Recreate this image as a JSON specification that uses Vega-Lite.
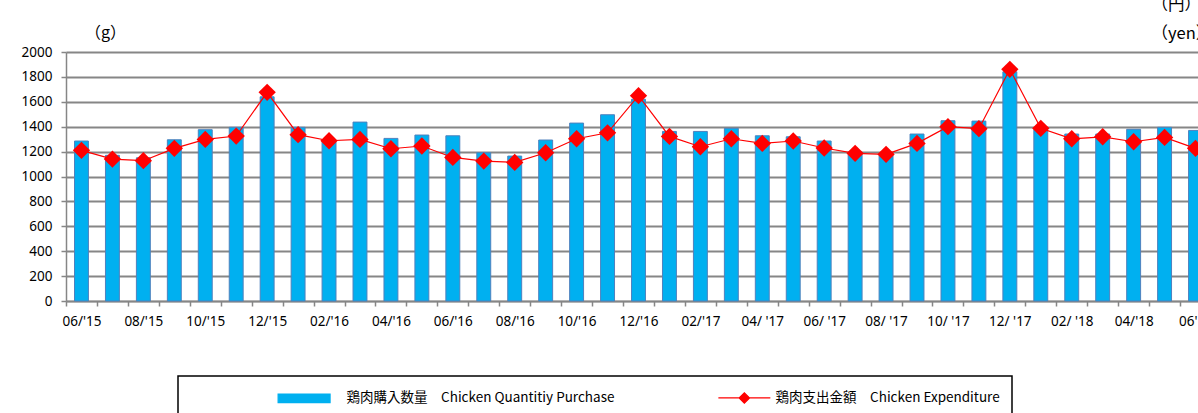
{
  "$schema": "https://vega.github.io/schema/vega-lite/v6.json",
  "width": 1145,
  "height": 249,
  "autosize": {"type": "none"},
  "padding": {"left": 66, "top": 52, "right": 0, "bottom": 112},
  "background": "white",
  "config": {
    "view": {"stroke": null},
    "font": "Noto Sans",
    "axis": {
      "labelFont": "Noto Sans",
      "labelFontSize": 13.5,
      "labelColor": "#000000",
      "domainColor": "#868686",
      "domainWidth": 1.5,
      "tickColor": "#868686",
      "tickWidth": 1.5,
      "tickSize": 5,
      "gridColor": "#868686",
      "gridWidth": 2
    }
  },
  "data": {
    "values": [
      {"month": "06/'15", "qty": 1285, "exp": 1210},
      {"month": "07/'15", "qty": 1170, "exp": 1140},
      {"month": "08/'15", "qty": 1150, "exp": 1127},
      {"month": "09/'15", "qty": 1295, "exp": 1226},
      {"month": "10/'15", "qty": 1376, "exp": 1298},
      {"month": "11/'15", "qty": 1395, "exp": 1325},
      {"month": "12/'15", "qty": 1640, "exp": 1676},
      {"month": "01/'16", "qty": 1395, "exp": 1336},
      {"month": "02/'16", "qty": 1290, "exp": 1287},
      {"month": "03/'16", "qty": 1437, "exp": 1298},
      {"month": "04/'16", "qty": 1306, "exp": 1223},
      {"month": "05/'16", "qty": 1333, "exp": 1245},
      {"month": "06/'16", "qty": 1327, "exp": 1153},
      {"month": "07/'16", "qty": 1191, "exp": 1124},
      {"month": "08/'16", "qty": 1164, "exp": 1113},
      {"month": "09/'16", "qty": 1293, "exp": 1191},
      {"month": "10/'16", "qty": 1429, "exp": 1303},
      {"month": "11/'16", "qty": 1496, "exp": 1351},
      {"month": "12/'16", "qty": 1620, "exp": 1649},
      {"month": "01/'17", "qty": 1362, "exp": 1322},
      {"month": "02/'17", "qty": 1362, "exp": 1239},
      {"month": "03/ '17", "qty": 1387, "exp": 1303},
      {"month": "04/ '17", "qty": 1327, "exp": 1266},
      {"month": "05/ '17", "qty": 1319, "exp": 1285},
      {"month": "06/ '17", "qty": 1285, "exp": 1229},
      {"month": "07/ '17", "qty": 1195, "exp": 1186},
      {"month": "08/ '17", "qty": 1180, "exp": 1178},
      {"month": "09/ '17", "qty": 1341, "exp": 1266},
      {"month": "10/ '17", "qty": 1448, "exp": 1400},
      {"month": "11/ '17", "qty": 1445, "exp": 1384},
      {"month": "12/ '17", "qty": 1841, "exp": 1861},
      {"month": "01/ '18", "qty": 1379, "exp": 1387},
      {"month": "02/ '18", "qty": 1341, "exp": 1303},
      {"month": "03/'18", "qty": 1341, "exp": 1319},
      {"month": "04/'18", "qty": 1379, "exp": 1279},
      {"month": "05/'18", "qty": 1395, "exp": 1314},
      {"month": "06'18", "qty": 1370, "exp": 1226}
    ]
  },
  "encoding": {
    "x": {
      "field": "month",
      "type": "nominal",
      "sort": null,
      "scale": {"paddingInner": 0, "paddingOuter": 0},
      "axis": {
        "title": null,
        "tickBand": "extent",
        "labelAngle": 0,
        "labelOverlap": false,
        "labelPadding": 8,
        "labelExpr": "parseInt(substring(datum.value, 0, 2)) % 2 == 0 ? datum.value : ''"
      }
    }
  },
  "layer": [
    {
      "mark": {"type": "bar", "width": {"band": 0.45}, "stroke": "#4F81BD", "strokeWidth": 1},
      "encoding": {
        "y": {
          "field": "qty",
          "type": "quantitative",
          "scale": {"domain": [0, 2000]},
          "axis": {
            "values": [0, 200, 400, 600, 800, 1000, 1200, 1400, 1600, 1800, 2000],
            "format": "d",
            "grid": true,
            "labelPadding": 9,
            "title": "（g）",
            "titleAngle": 0,
            "titleAlign": "center",
            "titleBaseline": "alphabetic",
            "titleX": 39,
            "titleY": -15,
            "titleFont": "Noto Sans CJK JP",
            "titleFontSize": 16,
            "titleFontWeight": "normal",
            "titleColor": "#000000"
          }
        },
        "color": {
          "datum": "鶏肉購入数量　Chicken Quantitiy Purchase",
          "type": "nominal",
          "scale": {
            "domain": ["鶏肉購入数量　Chicken Quantitiy Purchase", "鶏肉支出金額　Chicken Expenditure"],
            "range": ["#00B0F0", "#FF0000"]
          },
          "legend": {
            "orient": "none",
            "legendX": 112,
            "legendY": 324,
            "direction": "horizontal",
            "columns": 2,
            "gridAlign": "all",
            "columnPadding": 90,
            "padding": 12,
            "strokeColor": "#000000",
            "fillColor": "#FFFFFF",
            "title": " ",
            "titleOrient": "left",
            "titlePadding": 86,
            "titleFontSize": 2,
            "symbolSize": 300,
            "symbolOffset": 18.6,
            "labelOffset": 33,
            "labelFont": "Noto Sans CJK JP",
            "labelFontSize": 13.5,
            "labelColor": "#000000",
            "labelLimit": 500,
            "encode": {
              "legend": {"update": {"strokeWidth": {"value": 1.5}}},
              "symbols": {
                "update": {
                  "shape": {"signal": "indexof(datum.value, 'Purchase') >= 0 ? 'M-3,-0.5H3V0.5H-3Z' : 'M-1.7,0H4.3M0.7,0L1.3,-0.6L1.9,0L1.3,0.6Z'"},
                  "fill": {"signal": "indexof(datum.value, 'Purchase') >= 0 ? '#00B0F0' : '#FF0000'"},
                  "stroke": {"signal": "indexof(datum.value, 'Purchase') >= 0 ? '#4F81BD' : '#FF0000'"},
                  "strokeWidth": {"value": 1.2},
                  "opacity": {"value": 1},
                  "fillOpacity": {"value": 1}
                }
              }
            }
          }
        }
      }
    },
    {
      "mark": {
        "type": "line",
        "strokeWidth": 1.2,
        "point": {"shape": "diamond", "size": 300, "filled": true}
      },
      "encoding": {
        "y": {
          "field": "exp",
          "type": "quantitative",
          "scale": {"domain": [0, 2000]},
          "axis": {
            "orient": "right",
            "values": [0, 200, 400, 600, 800, 1000, 1200, 1400, 1600, 1800, 2000],
            "format": "d",
            "grid": false,
            "title": ["（円）", "（yen）"],
            "titleAngle": 0,
            "titleAlign": "left",
            "titleBaseline": "alphabetic",
            "titleX": -60,
            "titleY": -43,
            "titleLineHeight": 29,
            "titleFont": "Noto Sans CJK JP",
            "titleFontSize": 16.5,
            "titleFontWeight": "normal",
            "titleColor": "#000000"
          }
        },
        "color": {
          "datum": "鶏肉支出金額　Chicken Expenditure",
          "type": "nominal",
          "legend": {
            "orient": "none",
            "legendX": 112,
            "legendY": 324,
            "direction": "horizontal",
            "columns": 2,
            "gridAlign": "all",
            "columnPadding": 90,
            "padding": 12,
            "strokeColor": "#000000",
            "fillColor": "#FFFFFF",
            "title": " ",
            "titleOrient": "left",
            "titlePadding": 86,
            "titleFontSize": 2,
            "symbolSize": 300,
            "symbolOffset": 18.6,
            "labelOffset": 33,
            "labelFont": "Noto Sans CJK JP",
            "labelFontSize": 13.5,
            "labelColor": "#000000",
            "labelLimit": 500,
            "encode": {
              "legend": {"update": {"strokeWidth": {"value": 1.5}}},
              "symbols": {
                "update": {
                  "shape": {"signal": "indexof(datum.value, 'Purchase') >= 0 ? 'M-3,-0.5H3V0.5H-3Z' : 'M-1.7,0H4.3M0.7,0L1.3,-0.6L1.9,0L1.3,0.6Z'"},
                  "fill": {"signal": "indexof(datum.value, 'Purchase') >= 0 ? '#00B0F0' : '#FF0000'"},
                  "stroke": {"signal": "indexof(datum.value, 'Purchase') >= 0 ? '#4F81BD' : '#FF0000'"},
                  "strokeWidth": {"value": 1.2},
                  "opacity": {"value": 1},
                  "fillOpacity": {"value": 1}
                }
              }
            }
          }
        }
      }
    }
  ],
  "resolve": {"scale": {"y": "independent"}}
}
